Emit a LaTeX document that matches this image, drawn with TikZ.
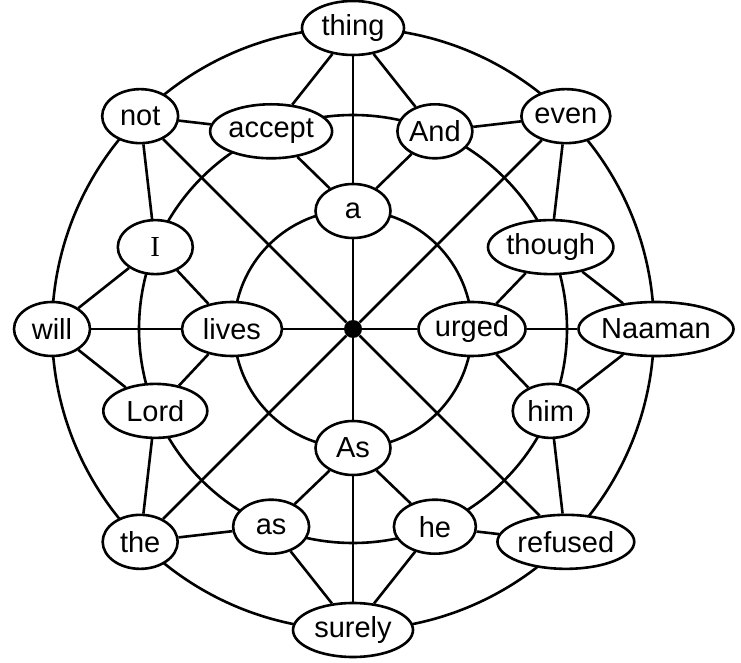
\documentclass[tikz,border=0pt]{standalone}
\usepackage{fontspec}
\setmainfont{Liberation Sans}
\newfontfamily\serifI{Liberation Serif}
\usetikzlibrary{shapes.geometric}
\tikzset{
  ln/.style={line width=2.6pt},
  wnode/.style={ellipse, draw, line width=2.6pt, fill=white, inner sep=0pt,
    minimum height=54pt, font=\fontsize{29}{31}\selectfont},
  dotnode/.style={circle, fill=black, inner sep=0pt, minimum size=18pt}
}
\begin{document}
\begin{tikzpicture}[x=1pt,y=1pt]
\useasboundingbox (0,0) rectangle (741,662);
\begin{scope}[shift={(353,333)}]
  % circles
  \draw[ln] (0,0) circle[radius=301];
  \draw[ln] (0,0) circle[radius=214];
  \draw[ln] (0,0) circle[radius=119];
  % center
  \node[dotnode] (c) at (0,0) {};
  % inner ring
  \node[wnode, minimum width=75pt] (a) at (90:118) {a};
  \node[wnode, minimum width=107pt] (urged) at (0:119) {urged};
  \node[wnode, minimum width=75pt] (As) at (270:119) {As};
  \node[wnode, minimum width=100pt] (lives) at (180:121) {lives};
  % middle ring
  \node[wnode, minimum width=122pt] (accept) at (112.5:214) {accept};
  \node[wnode, minimum width=75pt] (And) at (67.5:214) {And};
  \node[wnode, minimum width=120pt] (though) at (22.5:214) {though};
  \node[wnode, minimum width=76pt] (him) at (-22.5:214) {him};
  \node[wnode, minimum width=82pt] (he) at (-67.5:214) {he};
  \node[wnode, minimum width=76pt] (as) at (247.5:214) {as};
  \node[wnode, minimum width=104pt] (Lord) at (202.5:214) {Lord};
  \node[wnode, minimum width=75pt, font=\fontsize{29}{31}\serifI] (I) at (157.5:214) {I};
  % outer ring
  \node[wnode, minimum width=102pt] (thing) at (90:301) {thing};
  \node[wnode, minimum width=87pt] (even) at (45:301) {even};
  \node[wnode, minimum width=142pt] (Naaman) at (0:303) {Naaman};
  \node[wnode, minimum width=134pt] (refused) at (-45:301) {refused};
  \node[wnode, minimum width=120pt] (surely) at (-90:301) {surely};
  \node[wnode, minimum width=75pt] (the) at (225:301) {the};
  \node[wnode, minimum width=76pt] (will) at (180:301) {will};
  \node[wnode, minimum width=76pt] (not) at (135:301) {not};
  % edges
  \draw[ln] (thing) -- (accept);
  \draw[ln] (thing) -- (And);
  \draw[ln] (thing) -- (a);
  \draw[ln] (not) -- (accept);
  \draw[ln] (not) -- (I);
  \draw[ln] (not) -- (c);
  \draw[ln] (accept) -- (a);
  \draw[ln] (And) -- (a);
  \draw[ln] (And) -- (even);
  \draw[ln] (even) -- (though);
  \draw[ln] (even) -- (c);
  \draw[ln] (though) -- (Naaman);
  \draw[ln] (though) -- (urged);
  \draw[ln] (Naaman) -- (urged);
  \draw[ln] (Naaman) -- (him);
  \draw[ln] (him) -- (urged);
  \draw[ln] (him) -- (refused);
  \draw[ln] (refused) -- (c);
  \draw[ln] (refused) -- (he);
  \draw[ln] (he) -- (As);
  \draw[ln] (he) -- (surely);
  \draw[ln] (surely) -- (As);
  \draw[ln] (surely) -- (as);
  \draw[ln] (as) -- (As);
  \draw[ln] (as) -- (the);
  \draw[ln] (the) -- (Lord);
  \draw[ln] (the) -- (c);
  \draw[ln] (Lord) -- (will);
  \draw[ln] (Lord) -- (lives);
  \draw[ln] (will) -- (lives);
  \draw[ln] (will) -- (I);
  \draw[ln] (I) -- (lives);
  \draw[ln] (lives) -- (c);
  \draw[ln] (urged) -- (c);
  \draw[ln] (As) -- (c);
  \draw[ln] (a) -- (c);
\end{scope}
\end{tikzpicture}
\end{document}
